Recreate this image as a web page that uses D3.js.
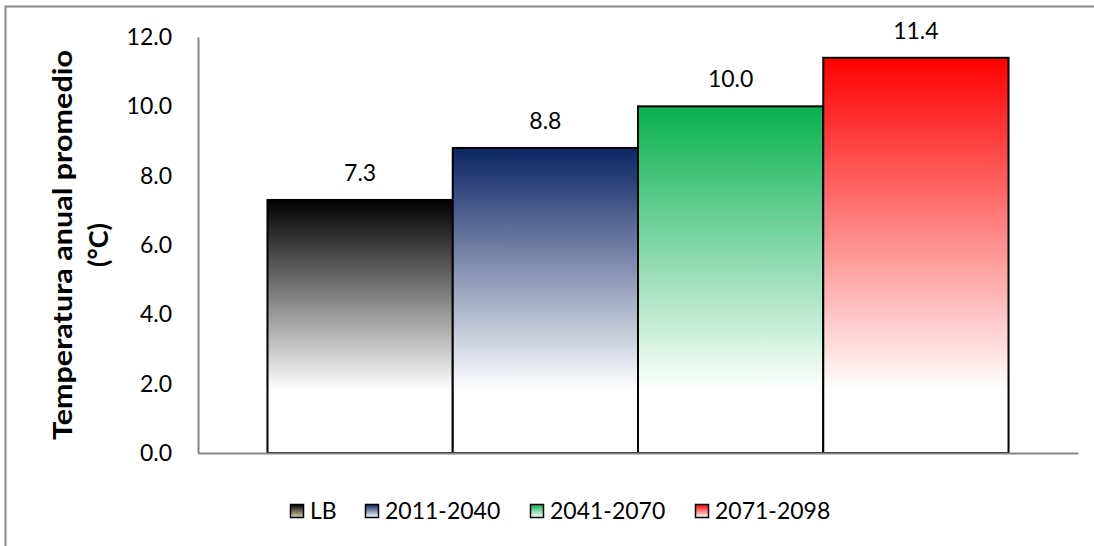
<!DOCTYPE html>
<html><head><meta charset="utf-8">
<script src="https://cdn.jsdelivr.net/npm/d3@7"></script>
<style>
html,body{margin:0;padding:0;background:#fff;}
svg{display:block;font-family:Lato,"Open Sans",sans-serif;}
</style></head>
<body>
<svg id="chart" width="1094" height="546"></svg>
<script>
const series = ["LB","2011-2040","2041-2070","2071-2098"];
const values = [7.3, 8.8, 10.0, 11.4];
const topColors = ["#000000","#0c2464","#08b050","#ff0000"];
const legendBottom = ["#ddd3b0","#ffffff","#ffffff","#ffffff"];
const yTicks = [0,2,4,6,8,10,12];
const yTitle = ["Temperatura anual promedio","(°C)"];

const svg = d3.select("#chart");
const W = 1094, H = 546;
const plot = {left:198, right:1078, top:37, bottom:453};

// outer border
svg.append("rect").attr("x",5.5).attr("y",6.5).attr("width",W+10).attr("height",H+10)
  .attr("fill","none").attr("stroke","#8c8c8c").attr("stroke-width",2);

const x = d3.scaleBand().domain(series).range([plot.left,plot.right]).paddingInner(0).paddingOuter(0.375);
const y = d3.scaleLinear().domain([0,12]).range([plot.bottom,plot.top]);

const defs = svg.append("defs");
series.forEach((s,i)=>{
  const g = defs.append("linearGradient").attr("id","g"+i)
    .attr("gradientUnits","userSpaceOnUse")
    .attr("x1",0).attr("x2",0).attr("y1",y(values[i])).attr("y2",y(1.8));
  g.append("stop").attr("offset","0").attr("stop-color",topColors[i]);
  g.append("stop").attr("offset","1").attr("stop-color","#ffffff");
  const lg = defs.append("linearGradient").attr("id","lg"+i)
    .attr("x1",0).attr("x2",0).attr("y1",0).attr("y2",1);
  lg.append("stop").attr("offset","0").attr("stop-color",topColors[i]);
  lg.append("stop").attr("offset","1").attr("stop-color",legendBottom[i]);
});

// y axis
const yAxis = d3.axisLeft(y).tickValues(yTicks).tickFormat(d3.format(".1f")).tickSize(0).tickPadding(26);
const ya = svg.append("g").attr("transform",`translate(${plot.left},0)`).call(yAxis);
ya.select(".domain").attr("stroke","#868686").attr("stroke-width",2);
ya.selectAll("text").attr("font-size",23).attr("fill","#000").attr("font-family","Lato");

// bars
svg.append("g").selectAll("rect").data(series).join("rect")
  .attr("x",d=>x(d)).attr("width",x.bandwidth())
  .attr("y",(d,i)=>y(values[i])).attr("height",(d,i)=>y(0)-y(values[i]))
  .attr("fill",(d,i)=>`url(#g${i})`).attr("stroke","#000").attr("stroke-width",2);

// x axis
const xa = svg.append("g").attr("transform",`translate(0,${plot.bottom})`)
  .call(d3.axisBottom(x).tickSize(0).tickFormat(""));
xa.select(".domain").attr("stroke","#868686").attr("stroke-width",2);

// value labels
svg.append("g").selectAll("text").data(series).join("text")
  .attr("x",d=>x(d)+x.bandwidth()/2).attr("y",(d,i)=>y(values[i])-19)
  .attr("text-anchor","middle").attr("font-size",23).attr("fill","#000")
  .text((d,i)=>d3.format(".1f")(values[i]));

// y title
const t = svg.append("text").attr("transform","translate(63,245) rotate(-90)")
  .attr("text-anchor","middle").attr("font-weight","bold").attr("font-size",27).attr("fill","#000");
t.append("tspan").attr("x",0).attr("dy","0.35em").attr("textLength",390).attr("lengthAdjust","spacingAndGlyphs").text(yTitle[0]);
t.append("tspan").attr("x",0).attr("dy","1.3em").text(yTitle[1]);

// legend
const legX = [290,365,530,695];
const leg = svg.append("g").selectAll("g").data(series).join("g")
  .attr("transform",(d,i)=>`translate(${legX[i]},503)`);
leg.append("rect").attr("x",0.5).attr("y",1.5).attr("width",13).attr("height",13)
  .attr("fill",(d,i)=>`url(#lg${i})`).attr("stroke","#000").attr("stroke-width",1.5);
leg.append("text").attr("x",20).attr("y",16).attr("font-size",23).attr("fill","#000").text(d=>d);
</script>
</body></html>
